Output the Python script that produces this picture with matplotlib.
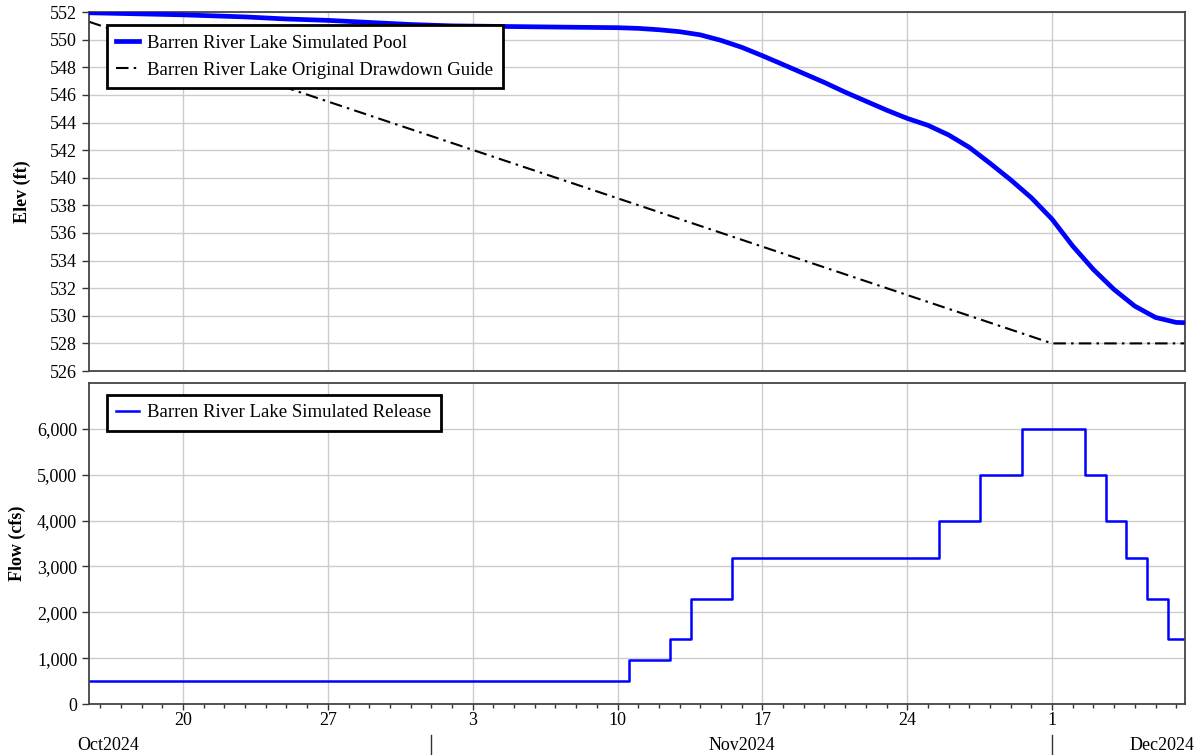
import numpy as np
import pandas as pd
import matplotlib
matplotlib.use("Agg")
import matplotlib.pyplot as plt
import matplotlib.dates as mdates
import matplotlib.ticker as mticker
import matplotlib.transforms as mtransforms

plt.rcParams["font.family"] = ["Liberation Serif", "DejaVu Serif"]

# simulated pool elevation (ft)
pool_dates = [
    "2024-10-15 11:00", "2024-10-17", "2024-10-20", "2024-10-23", "2024-10-25",
    "2024-10-27", "2024-10-29", "2024-10-31", "2024-11-02", "2024-11-05",
    "2024-11-08", "2024-11-10", "2024-11-11", "2024-11-12", "2024-11-13",
    "2024-11-14", "2024-11-15", "2024-11-16", "2024-11-17", "2024-11-18",
    "2024-11-19", "2024-11-20", "2024-11-21", "2024-11-22", "2024-11-23",
    "2024-11-24", "2024-11-25", "2024-11-26", "2024-11-27", "2024-11-28",
    "2024-11-29", "2024-11-30", "2024-12-01", "2024-12-02", "2024-12-03",
    "2024-12-04", "2024-12-05", "2024-12-06", "2024-12-07", "2024-12-07 10:00",
]
pool_elev = [
    551.95, 551.9, 551.8, 551.65, 551.5,
    551.4, 551.25, 551.1, 551.0, 550.95,
    550.9, 550.87, 550.82, 550.72, 550.58,
    550.35, 549.95, 549.45, 548.84, 548.2,
    547.55, 546.9, 546.2, 545.55, 544.9,
    544.3, 543.8, 543.1, 542.2, 541.05,
    539.85, 538.55, 537.0, 535.05, 533.35,
    531.9, 530.7, 529.88, 529.52, 529.5,
]

# original drawdown guide
guide_dates = ["2024-10-15 11:00", "2024-12-01 00:00", "2024-12-07 10:00"]
guide_elev = [551.3, 528.0, 528.0]

# simulated release (cfs), step changes
release_dates = [
    "2024-10-15 11:00", "2024-11-10 13:00", "2024-11-12 13:00", "2024-11-13 13:00",
    "2024-11-15 13:00", "2024-11-25 13:00", "2024-11-27 13:00", "2024-11-29 13:00",
    "2024-12-02 14:00", "2024-12-03 14:00", "2024-12-04 14:00", "2024-12-05 14:00",
    "2024-12-06 14:00", "2024-12-07 10:00",
]
release_cfs = [500, 965, 1420, 2300, 3190, 4000, 5000, 6000,
               5000, 4000, 3190, 2300, 1420, 1420]

t_start = pd.Timestamp("2024-10-15 11:00")
t_end = pd.Timestamp("2024-12-07 10:00")

pool_t = pd.to_datetime(pool_dates, format="mixed")
guide_t = pd.to_datetime(guide_dates, format="mixed")
release_t = pd.to_datetime(release_dates, format="mixed")

fig = plt.figure(figsize=(11.98, 7.55), dpi=100)
ax1 = fig.add_axes([0.0743, 0.5086, 0.9147, 0.4754])
ax2 = fig.add_axes([0.0743, 0.0675, 0.9147, 0.4252], sharex=ax1)

grid_kw = dict(color="#cccccc", linewidth=1.0)
spine_color = "#444444"

ax1.plot(pool_t, pool_elev, color="#0000ff", linewidth=3.4,
         label="Barren River Lake Simulated Pool", zorder=3)
ax1.plot(guide_t, guide_elev, color="black", linewidth=1.5,
         linestyle=(0, (6, 2.5, 1.2, 2.5)),
         label="Barren River Lake Original Drawdown Guide", zorder=2)
ax1.set_ylim(526, 552)
ax1.set_yticks(np.arange(526, 553, 2))
ax1.set_ylabel("Elev (ft)", fontsize=13, fontweight="bold", labelpad=14)

ax2.plot(release_t, release_cfs, color="#0000ff", linewidth=1.8,
         drawstyle="steps-post", label="Barren River Lake Simulated Release")
ax2.set_ylim(0, 7000)
ax2.set_yticks(np.arange(0, 6001, 1000))
ax2.yaxis.set_major_formatter(mticker.StrMethodFormatter("{x:,.0f}"))
ax2.set_ylabel("Flow (cfs)", fontsize=13, fontweight="bold", labelpad=8)

ax2.set_xlim(t_start, t_end)
ax2.xaxis.set_major_locator(mdates.WeekdayLocator(byweekday=mdates.SU))
ax2.xaxis.set_major_formatter(mdates.DateFormatter("%-d"))
ax2.xaxis.set_minor_locator(mdates.DayLocator())

for ax in (ax1, ax2):
    ax.grid(True, which="major", **grid_kw)
    ax.set_axisbelow(True)
    for s in ax.spines.values():
        s.set_color(spine_color)
        s.set_linewidth(1.3)
    ax.tick_params(axis="y", which="major", direction="out", length=5,
                   width=1, colors="#333333", labelsize=13, labelcolor="black")

ax1.tick_params(axis="x", which="both", length=0, labelbottom=False)
ax2.tick_params(axis="x", which="major", direction="out", length=4, width=1,
                labelsize=13, pad=2, colors="#333333", labelcolor="black")
ax2.tick_params(axis="x", which="minor", direction="out", length=3, width=1,
                colors="#333333")

leg_kw = dict(loc="upper left", fontsize=13.5, frameon=True, fancybox=False,
              framealpha=1.0, borderpad=0.5, borderaxespad=0.0,
              handlelength=1.2, handletextpad=0.45, labelspacing=0.55)
leg1 = ax1.legend(bbox_to_anchor=(0.0164, 0.964), **leg_kw)
leg2 = ax2.legend(bbox_to_anchor=(0.0164, 0.963), **leg_kw)
for leg in (leg1, leg2):
    leg.get_frame().set_edgecolor("black")
    leg.get_frame().set_linewidth(2.0)

# month row below the day labels
trans = mtransforms.blended_transform_factory(ax2.transData, ax2.transAxes)
for d in ["2024-11-01", "2024-12-01"]:
    ax2.plot([pd.Timestamp(d)] * 2, [-0.097, -0.16], color="#333333",
             linewidth=1, transform=trans, clip_on=False)
ax2.text(-0.011, -0.13, "Oct2024", transform=ax2.transAxes, fontsize=13,
         ha="left", va="center")
ax2.text(pd.Timestamp("2024-11-16"), -0.13, "Nov2024", transform=trans,
         fontsize=13, ha="center", va="center")
ax2.text(1.009, -0.13, "Dec2024", transform=ax2.transAxes, fontsize=13,
         ha="right", va="center")

fig.savefig("out.png", dpi=100)
